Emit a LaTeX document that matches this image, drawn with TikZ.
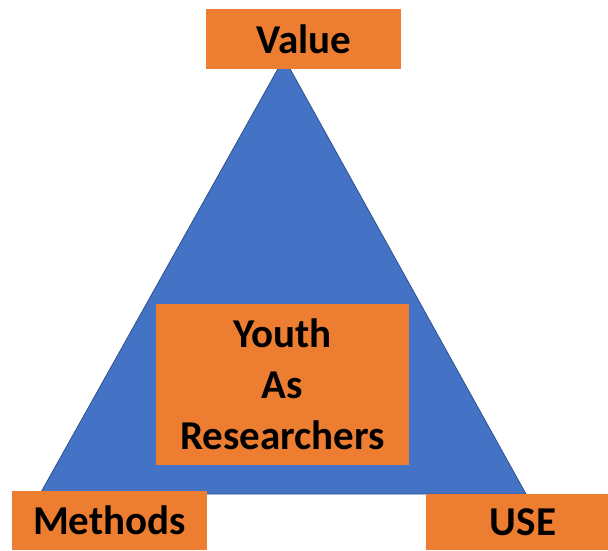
\documentclass[tikz,border=0pt]{standalone}
\usepackage{fontspec}
\setmainfont{Carlito}
\usetikzlibrary{positioning}
\definecolor{triblue}{HTML}{4472C4}
\definecolor{triedge}{HTML}{2F528F}
\definecolor{boxorange}{HTML}{ED7D31}
\tikzset{
  tag/.style={fill=boxorange, inner sep=0pt, align=center,
              font=\fontsize{41}{51}\selectfont\bfseries}
}

\begin{document}
\begin{tikzpicture}[x=1pt,y=1pt]
  \useasboundingbox (0,0) rectangle (608,550);

  % the triangle behind everything
  \coordinate (apex) at (284,492);
  \coordinate (lcorner) at (40,56);
  \coordinate (rcorner) at (526,56);
  \draw[fill=triblue, draw=triedge, line width=0.8pt]
    (apex) -- (lcorner) -- (rcorner) -- cycle;

  % corner labels
  \node[tag, minimum width=195pt, minimum height=60pt] (value) at (303.5,511) {Value};
  \node[tag, minimum width=195pt, minimum height=59pt] (methods) at (109.5,29.5) {Methods};
  \node[tag, minimum width=194pt, minimum height=56pt] (use) at (523,28) {USE};

  % centre box
  \node[tag, text width=253pt, minimum height=161pt] (youth) at (282.5,165.5) {%
    Youth\\As\\Researchers};

\end{tikzpicture}
\end{document}
